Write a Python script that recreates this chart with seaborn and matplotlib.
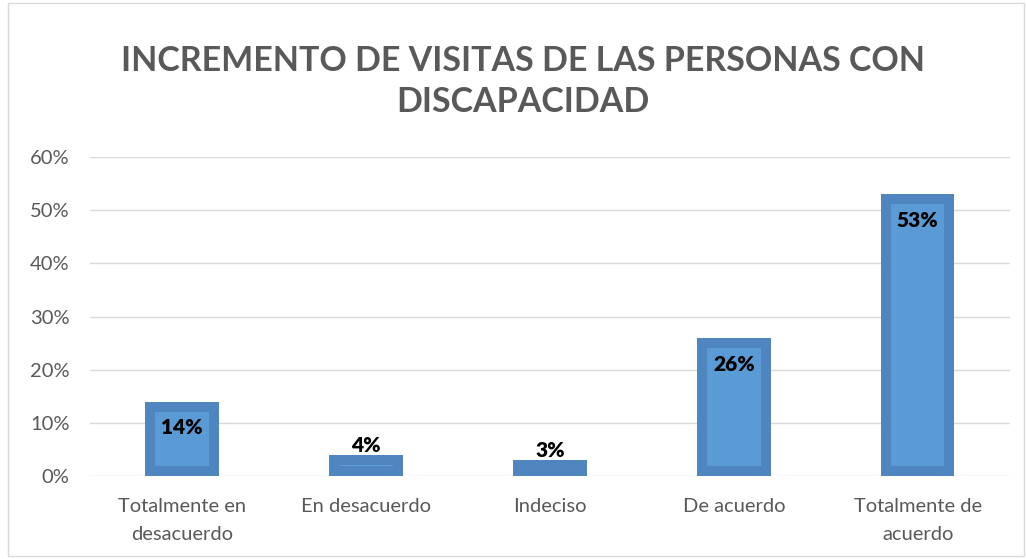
import matplotlib
matplotlib.use("Agg")
import matplotlib.pyplot as plt
import seaborn as sns
import pandas as pd
from matplotlib.patches import Rectangle

categories = ["Totalmente en\ndesacuerdo", "En desacuerdo", "Indeciso", "De acuerdo", "Totalmente de\nacuerdo"]
values = [14, 4, 3, 26, 53]
title = "INCREMENTO DE VISITAS DE LAS PERSONAS CON\nDISCAPACIDAD"

df = pd.DataFrame({"cat": categories, "val": values})

sns.set_theme(style="white")
plt.rcParams["font.family"] = ["Lato", "DejaVu Sans"]

fig = plt.figure(figsize=(10.26, 5.59), dpi=100)
ax = fig.add_axes([0.088, 0.148, 0.896, 0.571])

sns.barplot(data=df, x="cat", y="val", ax=ax, color="#5B9BD5", saturation=1,
            width=0.4, edgecolor="#4F86C0", linewidth=14.4)
for p in ax.patches:
    p.set_clip_path(p)  # keep the border inside the bar
    p.set_joinstyle("miter")

for i, v in enumerate(values):
    if v >= 10:
        ax.annotate(f"{v}%", (i, v), xytext=(0, -12), textcoords="offset points",
                    ha="center", va="top", fontsize=15, fontweight="heavy", color="black")
    else:
        ax.annotate(f"{v}%", (i, v), xytext=(0, 0), textcoords="offset points",
                    ha="center", va="bottom", fontsize=15, fontweight="heavy", color="black")

ax.set_ylim(0, 60)
ax.set_xlim(-0.5, 4.5)
ax.set_yticks(range(0, 61, 10))
ax.set_yticklabels([f"{t}%" for t in range(0, 61, 10)])
ax.yaxis.grid(True, color="#D9D9D9", linewidth=1)
ax.set_axisbelow(True)
for s in ax.spines.values():
    s.set_visible(False)
ax.tick_params(axis="y", length=0, labelsize=14.5, colors="#595959", pad=15)
ax.tick_params(axis="x", length=0, labelsize=14.5, colors="#595959", pad=16)
for lbl in ax.get_xticklabels():
    lbl.set_linespacing(1.75)
ax.set_xlabel("")
ax.set_ylabel("")

fig.text(0.51, 0.855, title, ha="center", va="center", fontsize=24.5, fontweight="bold",
         color="#595959", linespacing=1.35)

fig.patches.append(Rectangle((0.008, 0.005), 0.99, 0.99, transform=fig.transFigure,
                             fill=False, edgecolor="#D9D9D9", linewidth=1))

fig.savefig("out.png", dpi=100)
